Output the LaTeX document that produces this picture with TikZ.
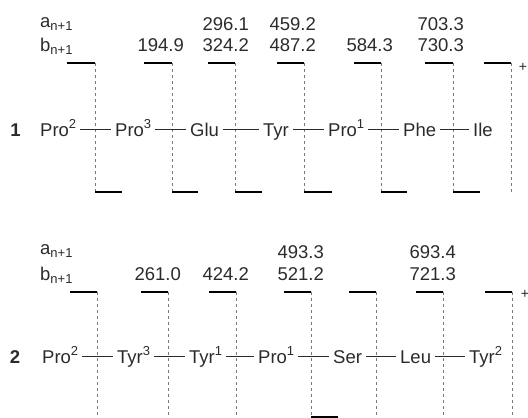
\documentclass[tikz,border=0pt]{standalone}
\usepackage{fontspec}
\setmainfont{Liberation Sans}
\usetikzlibrary{positioning}
\definecolor{ink}{HTML}{2B2B2B}
\definecolor{cutgray}{HTML}{7A7A7A}
\newcommand{\sps}[1]{\raisebox{7.5pt}{\fontsize{13}{13}\selectfont #1}}
\newcommand{\sbs}[1]{\raisebox{-3.5pt}{\fontsize{13}{13}\selectfont #1}}
\tikzset{
  res/.style={anchor=base west, inner xsep=4pt, inner ysep=0pt,
              text height=15pt, text depth=2pt, text=ink,
              font=\fontsize{18.5}{21}\selectfont},
  ion/.style={anchor=base east, inner sep=0pt, text=ink,
              font=\fontsize{18.5}{21}\selectfont},
  lbl/.style={anchor=base west, inner sep=0pt, text=ink,
              font=\fontsize{18.5}{21}\selectfont},
  key/.style={anchor=base, inner sep=0pt, text=ink,
              font=\fontsize{18.5}{21}\selectfont\bfseries},
  pls/.style={inner sep=0pt, text=ink, font=\fontsize{14}{14}\selectfont},
  bar/.style={black, line width=1.5pt},
  cut/.style={cutgray, line width=0.9pt, dash pattern=on 3pt off 3pt},
  lnk/.style={ink, line width=1.3pt},
}

\begin{document}
\begin{tikzpicture}[x=1pt, y=-1pt]
    \useasboundingbox (0,0) rectangle (528,418);

    % peptide 1
    \node[lbl] (an1) at (40,27) {a\sbs{n+1}};
    \node[lbl] (bn1) at (40,51) {b\sbs{n+1}};
    \node[ion] (m1949) at (184,51.5) {194.9};
    \node[ion] (m2961) at (249,30.5) {296.1};
    \node[ion] (m3242) at (249,51.5) {324.2};
    \node[ion] (m4592) at (316,30.5) {459.2};
    \node[ion] (m4872) at (316,51.5) {487.2};
    \node[ion] (m5843) at (393,51.5) {584.3};
    \node[ion] (m7033) at (464,30.5) {703.3};
    \node[ion] (m7303) at (464,51.5) {730.3};
    \node[pls] (plus1) at (523,67) {+};

    \draw[bar] (67,63) -- (95,63) (144,63) -- (172,63) (208,63) -- (235,63)
      (277,63) -- (304,63) (354,63) -- (381,63) (425,63) -- (453,63)
      (484,63) -- (511,63);
    \draw[cut] (95,63) -- (95,192) (172,63) -- (172,192) (235,63) -- (235,192)
      (304,63) -- (304,192) (381,63) -- (381,192) (453,63) -- (453,192)
      (511,63) -- (511,192);
    \draw[bar] (95,192) -- (122,192) (172,192) -- (198,192) (235,192) -- (262,192)
      (304,192) -- (332,192) (381,192) -- (407,192) (453,192) -- (480,192);

    \node[key] (k1) at (15.5,136) {1};
    \node[res] (pro2) at (36,136) {Pro\sps{2}};
    \node[res] (pro3) at (111,136) {Pro\sps{3}};
    \node[res] (glu) at (186,136) {Glu};
    \node[res] (tyr) at (259,136) {Tyr};
    \node[res] (pro1) at (324,136) {Pro\sps{1}};
    \node[res] (phe) at (399,136) {Phe};
    \node[res] (ile) at (469,136) {Ile};
    \draw[lnk] (pro2) -- (pro3);
    \draw[lnk] (pro3) -- (glu);
    \draw[lnk] (glu) -- (tyr);
    \draw[lnk] (tyr) -- (pro1);
    \draw[lnk] (pro1) -- (phe);
    \draw[lnk] (phe) -- (ile);

    % peptide 2
    \node[lbl] (an2) at (40,254) {a\sbs{n+1}};
    \node[lbl] (bn2) at (40,280) {b\sbs{n+1}};
    \node[ion] (m2610) at (181,280) {261.0};
    \node[ion] (m4242) at (249,280) {424.2};
    \node[ion] (m4933) at (324,258) {493.3};
    \node[ion] (m5212) at (324,280) {521.2};
    \node[ion] (m6934) at (456,258) {693.4};
    \node[ion] (m7213) at (456,280) {721.3};
    \node[pls] (plus2) at (525,294) {+};

    \draw[bar] (70,292) -- (97,292) (141,292) -- (168,292) (209,292) -- (236,292)
      (284,292) -- (311,292) (349,292) -- (376,292) (416,292) -- (443,292)
      (485,292) -- (512,292);
    \draw[cut] (97,292) -- (97,418) (168,292) -- (168,418) (236,292) -- (236,418)
      (311,292) -- (311,417) (376,292) -- (376,418) (443,292) -- (443,418)
      (512,292) -- (512,418);
    \draw[bar] (311,417) -- (338,417);

    \node[key] (k2) at (15,363) {2};
    \node[res] (pro2b) at (38,363) {Pro\sps{2}};
    \node[res] (tyr3) at (113,363) {Tyr\sps{3}};
    \node[res] (tyr1) at (185,363) {Tyr\sps{1}};
    \node[res] (pro1b) at (254,363) {Pro\sps{1}};
    \node[res] (ser) at (329,363) {Ser};
    \node[res] (leu) at (396,363) {Leu};
    \node[res] (tyr2) at (465,363) {Tyr\sps{2}};
    \draw[lnk] (pro2b) -- (tyr3);
    \draw[lnk] (tyr3) -- (tyr1);
    \draw[lnk] (tyr1) -- (pro1b);
    \draw[lnk] (pro1b) -- (ser);
    \draw[lnk] (ser) -- (leu);
    \draw[lnk] (leu) -- (tyr2);
  \end{tikzpicture}
\end{document}
